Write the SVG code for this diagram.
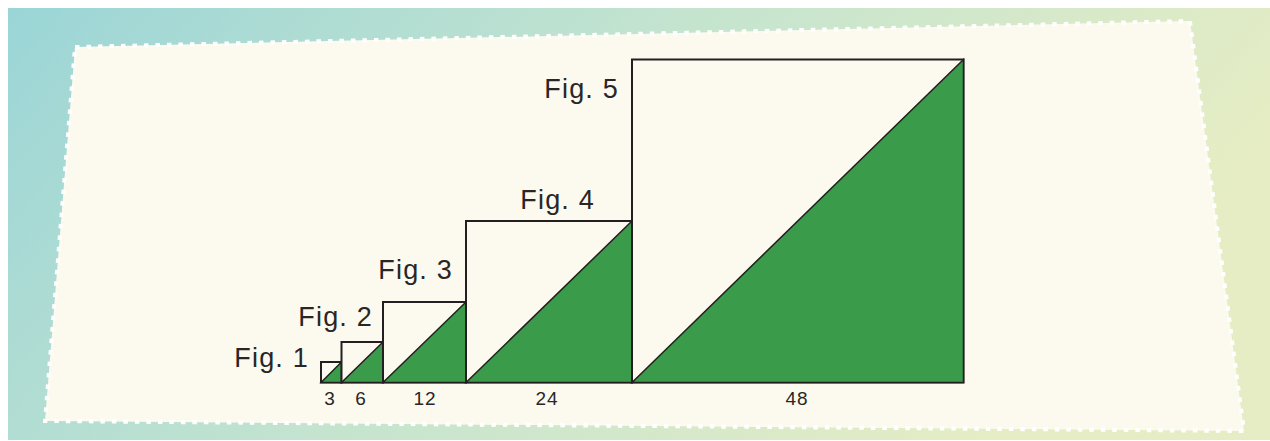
<svg xmlns="http://www.w3.org/2000/svg" width="1270" height="441" viewBox="0 0 1270 441">
  <defs>
    <linearGradient id="bg" x1="0" y1="0" x2="1" y2="0.3">
      <stop offset="0" stop-color="#9bd5d7"/>
      <stop offset="0.5" stop-color="#c4e4cf"/>
      <stop offset="1" stop-color="#e6edc4"/>
    </linearGradient>
    <style>
      .sq { fill: #fcfaee; stroke: #231f20; stroke-width: 2; }
      .tri { fill: #3a9c4a; stroke: #231f20; stroke-width: 1.5; stroke-linejoin: miter; }
      .lbl { font-family: "Liberation Sans", Arial, sans-serif; font-size: 27px; fill: #2a2627; letter-spacing: 1.2px; text-anchor: end; }
      .num { font-family: "Liberation Sans", Arial, sans-serif; font-size: 19px; fill: #2a2627; letter-spacing: 1px; text-anchor: middle; }
    </style>
  </defs>
  <rect x="0" y="0" width="1270" height="441" fill="#ffffff"/>
  <rect x="8" y="8" width="1262" height="432" fill="url(#bg)"/>
  <polygon points="75,47 1190,21 1244,431 45,421" fill="#fcfaee" stroke="#ffffff" stroke-width="4" stroke-dasharray="4.5 7"/>

  <g id="fig1">
    <rect class="sq" x="321" y="362" width="20.5" height="20.5"/>
    <polygon class="tri" points="321,382.5 341.5,362 341.5,382.5"/>
    <text class="lbl" x="309" y="367">Fig. 1</text>
    <text class="num" x="330" y="405">3</text>
  </g>
  <g id="fig2">
    <rect class="sq" x="341.5" y="342" width="41.5" height="40.5"/>
    <polygon class="tri" points="341.5,382.5 383,342 383,382.5"/>
    <text class="lbl" x="373" y="326">Fig. 2</text>
    <text class="num" x="361" y="405">6</text>
  </g>
  <g id="fig3">
    <rect class="sq" x="383" y="302" width="83" height="80.5"/>
    <polygon class="tri" points="383,382.5 466,302 466,382.5"/>
    <text class="lbl" x="453" y="279">Fig. 3</text>
    <text class="num" x="425" y="405">12</text>
  </g>
  <g id="fig4">
    <rect class="sq" x="466" y="221" width="166" height="161.5"/>
    <polygon class="tri" points="466,382.5 632,221 632,382.5"/>
    <text class="lbl" x="595" y="209">Fig. 4</text>
    <text class="num" x="547" y="405">24</text>
  </g>
  <g id="fig5">
    <rect class="sq" x="632" y="59.5" width="331.5" height="323"/>
    <polygon class="tri" points="632,382.5 963.5,59.5 963.5,382.5"/>
    <text class="lbl" x="619" y="98">Fig. 5</text>
    <text class="num" x="797" y="405">48</text>
  </g>
  <g id="connectors"/>
</svg>
